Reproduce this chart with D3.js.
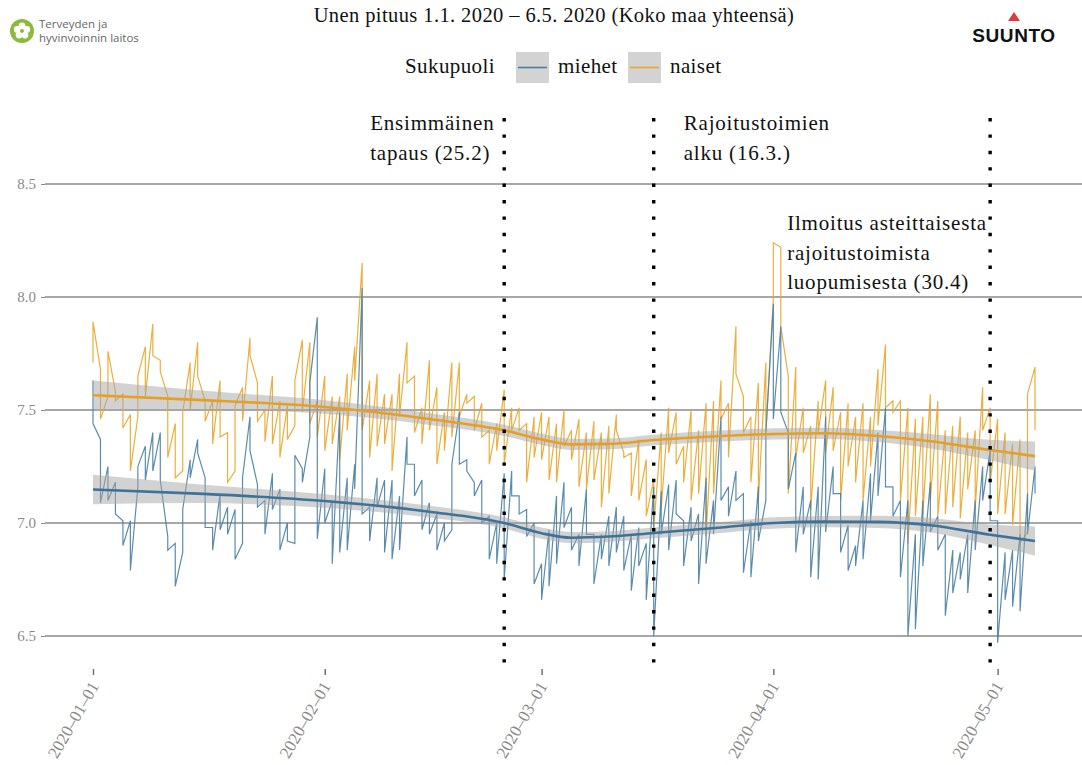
<!DOCTYPE html>
<html lang="fi">
<head>
<meta charset="UTF-8">
<title>Unen pituus</title>
<script src="https://cdn.jsdelivr.net/npm/d3@7"></script>
<style>
  body { margin: 0; background: #fff; }
  svg { display: block; }
  text { font-family: "Liberation Serif", "DejaVu Serif", serif; }
</style>
</head>
<body>
<svg id="chart" width="1082" height="765"></svg>
<script>
// data: two readings per day, Jan 1 2020 onwards
const startDate = new Date(2020, 0, 1)

const miehet = [
  [7.63,7.44],[7.37,7.09],[7.25,7.10],[7.18,7.04],[7.01,6.90],[7.01,6.79],[7.16,7.25],[7.34,7.19],
  [7.40,7.23],[7.40,7.19],[6.94,6.88],[6.91,6.72],[6.87,7.06],[7.28,7.20],[7.37,7.31],[7.20,6.98],
  [6.98,6.88],[7.13,6.97],[7.07,6.95],[7.06,6.84],[6.91,7.20],[7.47,7.32],[7.17,7.07],[7.10,6.95],
  [7.22,7.06],[7.15,6.88],[7.00,6.92],[6.91,7.30],[7.24,7.18],[7.38,7.62],[7.91,6.93],[7.24,7.00],
  [7.10,6.82],[7.49,6.87],[7.20,6.88],[7.26,7.15],[8.04,7.04],[7.07,6.92],[7.20,7.07],[7.19,6.87],
  [7.19,6.84],[7.12,6.88],[7.38,7.26],[7.26,7.12],[7.19,6.97],[7.09,6.95],[7.04,6.88],[7.00,6.92],
  [6.97,7.26],[7.49,7.26],[7.28,7.23],[7.18,7.12],[7.19,7.00],[7.03,6.84],[7.00,6.82],[7.22,6.75],
  [7.23,7.12],[7.12,7.04],[7.06,6.94],[7.00,6.73],[6.82,6.66],[6.97,6.72],[7.12,6.82],[7.18,6.98],
  [7.07,6.88],[6.95,6.81],[7.15,6.95],[6.95,6.73],[6.95,6.84],[7.03,6.81],[7.07,6.87],[7.03,6.79],
  [6.95,6.70],[6.98,6.81],[6.91,6.66],[7.16,6.50],[7.14,6.95],[7.17,6.88],[7.19,7.04],[7.01,6.81],
  [7.07,6.92],[7.04,6.73],[7.20,6.82],[7.10,6.95],[7.47,7.10],[7.16,7.03],[7.23,7.10],[7.13,6.78],
  [7.01,6.76],[7.16,6.92],[7.10,7.40],[7.97,7.46],[7.87,7.49],[7.40,7.15],[7.31,6.87],[7.16,6.95],
  [7.10,6.76],[7.16,6.75],[7.47,6.96],[7.25,7.13],[7.13,6.87],[6.99,6.79],[6.90,6.81],[7.10,6.84],
  [7.22,7.01],[7.40,7.12],[7.51,7.16],[7.16,7.03],[7.10,6.76],[7.10,6.50],[6.95,6.53],[7.10,6.81],
  [7.18,6.96],[7.03,6.88],[6.95,6.59],[6.88,6.69],[6.87,6.75],[6.95,6.69],[7.10,6.88],[7.25,7.10],
  [7.32,7.01],[7.01,6.47],[6.87,6.66],[6.88,6.63],[6.95,6.61],[7.13,6.95],[7.25,7.13]
]

const naiset = [
  [7.71,7.89],[7.68,7.46],[7.56,7.76],[7.58,7.54],[7.57,7.42],[7.48,7.23],[7.47,7.65],[7.78,7.56],
  [7.88,7.74],[7.72,7.67],[7.56,7.29],[7.44,7.20],[7.23,7.49],[7.71,7.50],[7.80,7.65],[7.54,7.45],
  [7.54,7.35],[7.63,7.38],[7.40,7.18],[7.23,7.52],[7.60,7.45],[7.82,7.74],[7.62,7.45],[7.50,7.36],
  [7.65,7.35],[7.54,7.29],[7.52,7.37],[7.43,7.63],[7.81,7.49],[7.80,7.44],[7.54,7.38],[7.65,7.32],
  [7.56,7.35],[7.56,7.28],[7.66,7.41],[7.78,7.63],[8.15,7.41],[7.63,7.29],[7.66,7.34],[7.57,7.35],
  [7.57,7.23],[7.66,7.47],[7.80,7.62],[7.65,7.40],[7.51,7.35],[7.72,7.41],[7.60,7.26],[7.49,7.32],
  [7.71,7.38],[7.71,7.47],[7.57,7.53],[7.56,7.41],[7.53,7.38],[7.41,7.26],[7.44,7.32],[7.59,7.26],
  [7.51,7.41],[7.51,7.41],[7.44,7.18],[7.47,7.29],[7.49,7.28],[7.47,7.19],[7.44,7.18],[7.50,7.34],
  [7.41,7.28],[7.46,7.16],[7.40,7.15],[7.45,7.19],[7.40,7.07],[7.43,7.13],[7.48,7.41],[7.31,7.29],
  [7.31,7.12],[7.37,7.10],[7.28,7.03],[7.19,6.98],[7.40,7.06],[7.51,7.31],[7.49,7.26],[7.34,7.18],
  [7.50,7.10],[7.41,7.13],[7.53,6.94],[7.54,7.13],[7.63,7.46],[7.53,7.29],[7.87,7.66],[7.56,7.40],
  [7.47,7.18],[7.62,7.10],[7.71,7.40],[7.99,8.24],[8.22,7.87],[7.65,7.13],[7.69,7.29],[7.51,7.31],
  [7.43,7.06],[7.54,7.40],[7.63,7.31],[7.60,7.32],[7.49,7.10],[7.53,7.25],[7.47,7.18],[7.53,7.10],
  [7.47,7.25],[7.68,7.43],[7.79,7.51],[7.54,7.49],[7.54,7.10],[7.51,6.91],[7.46,7.03],[7.47,7.04],
  [7.57,7.10],[7.54,7.03],[7.41,7.04],[7.43,7.07],[7.47,7.02],[7.40,7.15],[7.41,7.06],[7.60,7.41],
  [7.51,7.18],[7.46,7.04],[7.40,7.04],[7.35,6.99],[7.37,6.91],[6.96,7.57],[7.69,7.41]
]

// smoothed trend and half width of its band
const smoothDates = ['2020-01-01','2020-01-15','2020-02-01','2020-02-15','2020-02-25','2020-03-01',
  '2020-03-05','2020-03-10','2020-03-16','2020-03-25','2020-04-01','2020-04-08','2020-04-15',
  '2020-04-22','2020-04-30','2020-05-06']
const smoothMiehet = [7.148,7.13,7.097,7.05,7.0,6.955,6.935,6.94,6.956,6.98,7.0,7.006,7.005,6.99,6.948,6.92]
const smoothNaiset = [7.565,7.545,7.513,7.46,7.41,7.37,7.348,7.35,7.367,7.385,7.394,7.397,7.385,7.362,7.323,7.296]
const bandHalf = [0.065,0.042,0.03,0.026,0.025,0.025,0.025,0.024,0.024,0.024,0.025,0.025,0.027,0.032,0.045,0.065]

const yTicks = [6.5, 7.0, 7.5, 8.0, 8.5]
const xTicks = ['2020-01-01','2020-02-01','2020-03-01','2020-04-01','2020-05-01']

const events = [
  { date: '2020-02-25', lines: ['Ensimmäinen', 'tapaus (25.2)'], dx: -134, y: 130 },
  { date: '2020-03-16', lines: ['Rajoitustoimien', 'alku (16.3.)'], dx: 30, y: 130 },
  { date: '2020-04-30', lines: ['Ilmoitus asteittaisesta', 'rajoitustoimista', 'luopumisesta (30.4)'], dx: -203, y: 230 }
]

const BLUE = '#4a7fa3'
const ORANGE = '#e9a62a'
const BLUE_SMOOTH = '#3e7399'
const ORANGE_SMOOTH = '#e5a024'

const parse = d3.timeParse('%Y-%m-%d')
const svg = d3.select('#chart')

const x = d3.scaleTime()
  .domain([startDate, parse('2020-05-06')])
  .range([93, 1035])
const y = d3.scaleLinear()
  .domain([6.5, 8.5])
  .range([636, 184])

function dayDate(i) { return d3.timeDay.offset(startDate, i) }

// grid
svg.append('g')
  .selectAll('line')
  .data(yTicks)
  .join('line')
  .attr('x1', 45).attr('x2', 1082)
  .attr('y1', d => y(d)).attr('y2', d => y(d))
  .attr('stroke', '#8a8a8a').attr('stroke-width', 1.5)

// y axis labels
const yAxis = svg.append('g').attr('transform', 'translate(45,0)')
  .call(d3.axisLeft(y).tickValues(yTicks).tickFormat(d3.format('.1f')).tickSize(4).tickPadding(5))
yAxis.select('.domain').remove()
yAxis.selectAll('line').attr('stroke', '#8a8a8a')
yAxis.selectAll('text').attr('fill', '#8a8a8a').style('font-size', '15px')
  .style('font-family', '"Liberation Serif", serif')

// x axis
const xAxis = svg.append('g').attr('transform', 'translate(0,669)')
  .call(d3.axisBottom(x).tickValues(xTicks.map(parse)).tickFormat(d3.timeFormat('%Y–%m–%d')).tickSize(6).tickPadding(0))
xAxis.select('.domain').remove()
xAxis.selectAll('line').attr('stroke', '#6a6a6a').attr('stroke-width', 1.4)
xAxis.selectAll('text')
  .attr('fill', '#8a8a8a')
  .style('font-size', '17px')
  .style('font-family', '"Liberation Serif", serif')
  .attr('text-anchor', 'end')
  .attr('dy', null).attr('y', 0)
  .attr('transform', 'translate(6,17) rotate(-60)')

// bands
const area = d3.area()
  .x(d => x(d.date))
  .y0(d => y(d.v - d.h))
  .y1(d => y(d.v + d.h))
  .curve(d3.curveMonotoneX)
const smoothLine = d3.line()
  .x(d => x(d.date))
  .y(d => y(d.v))
  .curve(d3.curveMonotoneX)

function smoothData(vals) {
  return smoothDates.map((s, i) => ({ date: parse(s), v: vals[i], h: bandHalf[i] }))
}

function rawData(pairs) {
  const out = []
  pairs.forEach((p, i) => {
    out.push({ date: dayDate(i), v: p[0] })
    out.push({ date: dayDate(i), v: p[1] })
  })
  return out
}

const rawLine = d3.line().x(d => x(d.date)).y(d => y(d.v))

svg.append('path').datum(rawData(naiset))
  .attr('d', rawLine).attr('fill', 'none')
  .attr('stroke', ORANGE).attr('stroke-width', 1.2).attr('stroke-opacity', 0.9)
svg.append('path').datum(rawData(miehet))
  .attr('d', rawLine).attr('fill', 'none')
  .attr('stroke', BLUE).attr('stroke-width', 1.2).attr('stroke-opacity', 0.9)

;[[smoothMiehet, BLUE_SMOOTH], [smoothNaiset, ORANGE_SMOOTH]].forEach(([vals, col]) => {
  const sd = smoothData(vals)
  svg.append('path').datum(sd).attr('d', area)
    .attr('fill', '#a6a6a6').attr('fill-opacity', 0.5)
  svg.append('path').datum(sd).attr('d', smoothLine)
    .attr('fill', 'none').attr('stroke', col).attr('stroke-width', 2.6)
})

// event lines
events.forEach(e => {
  const ex = x(parse(e.date))
  svg.append('line')
    .attr('x1', ex).attr('x2', ex).attr('y1', 118).attr('y2', 669)
    .attr('stroke', '#000').attr('stroke-width', 3.4)
    .attr('stroke-dasharray', '3.4,13')
  const t = svg.append('text')
    .attr('fill', '#111')
    .style('font-size', '21px')
    .style('letter-spacing', '0.8px')
  e.lines.forEach((l, i) => {
    t.append('tspan').attr('x', ex + e.dx).attr('y', e.y + i * 29.5).text(l)
  })
})

// title
svg.append('text')
  .attr('x', 554).attr('y', 22)
  .attr('text-anchor', 'middle')
  .attr('fill', '#111')
  .style('font-size', '20.5px')
  .style('letter-spacing', '0.4px')
  .text('Unen pituus 1.1. 2020 – 6.5. 2020 (Koko maa yhteensä)')

// legend
const legend = svg.append('g')
legend.append('text').attr('x', 405).attr('y', 73).attr('fill', '#111')
  .style('font-size', '21px').style('letter-spacing', '0.4px').text('Sukupuoli')
const legendItems = [
  { label: 'miehet', color: BLUE, x: 516 },
  { label: 'naiset', color: ORANGE, x: 628 }
]
legendItems.forEach(it => {
  legend.append('rect').attr('x', it.x).attr('y', 52).attr('width', 33).attr('height', 31)
    .attr('fill', '#d3d3d3')
  legend.append('line').attr('x1', it.x + 2).attr('x2', it.x + 31).attr('y1', 67.5).attr('y2', 67.5)
    .attr('stroke', it.color).attr('stroke-width', 1.6)
  legend.append('text').attr('x', it.x + 42).attr('y', 73).attr('fill', '#111')
    .style('font-size', '21px').style('letter-spacing', '0.4px').text(it.label)
})

// THL logo
const thl = svg.append('g').attr('transform', 'translate(22,31)')
thl.append('circle').attr('r', 12).attr('fill', '#8cbb3c')
for (let k = 0; k < 5; k++) {
  const a = (k * 72 - 90) * Math.PI / 180
  thl.append('circle').attr('cx', Math.cos(a) * 5).attr('cy', Math.sin(a) * 5)
    .attr('r', 3.4).attr('fill', '#fff')
}
thl.append('circle').attr('r', 1.8).attr('fill', '#8cbb3c')
const thlText = svg.append('text').attr('fill', '#666')
  .style('font-family', '"Open Sans", "DejaVu Sans", sans-serif').style('font-size', '11.5px')
thlText.append('tspan').attr('x', 39).attr('y', 28).text('Terveyden ja')
thlText.append('tspan').attr('x', 39).attr('y', 42).text('hyvinvoinnin laitos')

// Suunto logo
svg.append('path')
  .attr('d', 'M1008,21 L1014,12 L1020,21 Z')
  .attr('fill', '#e03a3e')
svg.append('text')
  .attr('x', 1014).attr('y', 42)
  .attr('text-anchor', 'middle')
  .attr('fill', '#111')
  .style('font-family', '"Liberation Sans", Arial, sans-serif')
  .style('font-weight', 'bold')
  .style('font-size', '19px')
  .style('letter-spacing', '0.6px')
  .text('SUUNTO')
</script>
</body>
</html>
